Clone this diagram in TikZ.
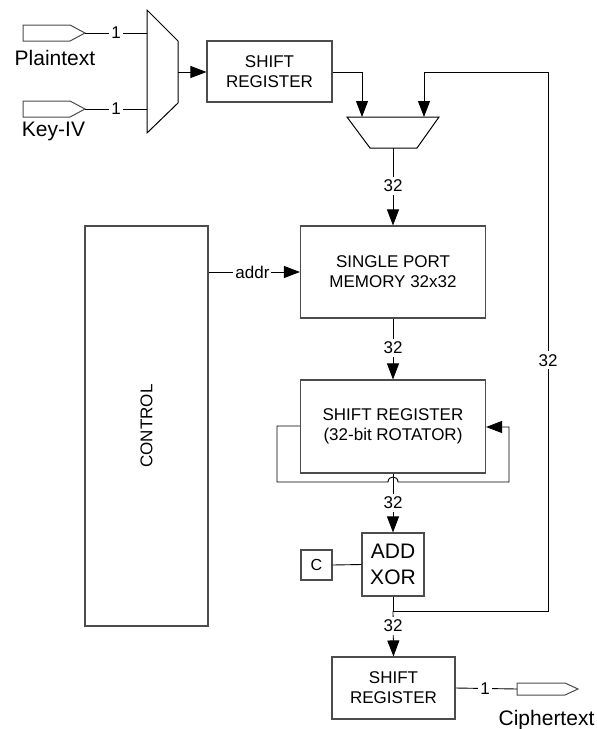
\documentclass[tikz,border=0pt]{standalone}
\usepackage{fontspec}
\setmainfont{Liberation Sans}
\usetikzlibrary{arrows.meta}
\begin{document}
\begin{tikzpicture}[x=1pt,y=-1pt,
  box/.style={draw=black!70, line width=1.1pt, fill=white, inner sep=0pt,
              align=center, font=\fontsize{17}{20}\selectfont},
  wire/.style={line width=0.9pt, draw=black},
  arr/.style={wire, -{Triangle[length=16pt,width=12pt]}},
  lbl/.style={fill=white, inner sep=3pt, font=\fontsize{17}{20}\selectfont},
  pin/.style={draw=black!70, line width=1pt, fill=white},
  io/.style={font=\fontsize{21}{24}\selectfont, anchor=base},
]
\useasboundingbox (0,0) rectangle (597,729);

% ---- blocks ----
\node[box, minimum width=125pt, minimum height=61pt] (sr1) at (269.5,71.5) {SHIFT\\REGISTER};
\node[box, minimum width=185pt, minimum height=92pt] (mem) at (393,272) {SINGLE PORT\\MEMORY 32x32};
\node[box, minimum width=123pt, minimum height=400pt] (ctrl) at (146.5,426) {};
\node[font=\fontsize{17}{20}\selectfont, rotate=90] (ctrltxt) at (ctrl.center) {CONTROL};
\node[box, minimum width=185pt, minimum height=93pt] (sr2) at (393,426.5) {SHIFT REGISTER\\(32-bit ROTATOR)};
\node[box, minimum width=62pt, minimum height=63pt, font=\fontsize{21}{26}\selectfont] (alu) at (393,564.5) {ADD\\XOR};
\node[box, minimum width=31pt, minimum height=30pt, font=\fontsize{16}{19}\selectfont] (cst) at (316.5,565) {C};
\node[box, minimum width=123pt, minimum height=62pt] (sr3) at (393.5,688) {SHIFT\\REGISTER};

% ---- input multiplexer ----
\coordinate (m1) at (147,10);
\coordinate (m2) at (178,41);
\coordinate (m3) at (178,103);
\coordinate (m4) at (147,133);
\draw[line width=1pt] (m1) -- (m2) -- (m3) -- (m4) -- cycle;
\coordinate (muxA) at (147,33);
\coordinate (muxB) at (147,109);
\coordinate (muxout) at (178,72);

% ---- combining trapezoid ----
\coordinate (t1) at (347,117);
\coordinate (t2) at (439,117);
\coordinate (t3) at (417,148);
\coordinate (t4) at (370,148);
\draw[line width=1pt] (t1) -- (t2) -- (t3) -- (t4) -- cycle;
\coordinate (tinA) at (362,117);
\coordinate (tinB) at (424,117);
\coordinate (tout) at (393,148);

% ---- I/O pins ----
\draw[pin] (23,25) -- (70,25) -- (85,33) -- (70,41) -- (23,41) -- cycle;
\coordinate (ptip) at (85,33);
\draw[pin] (23,101) -- (70,101) -- (85,109) -- (70,117) -- (23,117) -- cycle;
\coordinate (ktip) at (85,109);
\draw[pin] (517,683) -- (565,683) -- (578,689) -- (565,695) -- (517,695) -- cycle;
\coordinate (cbase) at (517,689);

\node[io] (ptxt) at (55,65) {Plaintext};
\node[io] (ktxt) at (53.5,136) {Key-IV};
\node[io] (ctxt) at (546.5,725) {Ciphertext};

% ---- connectors ----
\draw[wire] (ptip) -- node[lbl, inner sep=2pt] {1} (muxA);
\draw[wire] (ktip) -- node[lbl, inner sep=2pt] {1} (muxB);
\draw[arr] (muxout) -- (sr1.west |- muxout);

\draw[arr] (sr1.east |- 0,72) -| (tinA);
\draw[arr] (tout) -- node[lbl, pos=0.49] {32} (mem.north);

\draw[arr] (ctrl.east |- mem.west) -- node[lbl, pos=0.48, inner sep=2pt] {addr} (mem.west);
\draw[arr] (mem.south) -- node[lbl, pos=0.48] {32} (sr2.north);

% rotate loop around the shift register
\coordinate (jl) at (388,482);
\coordinate (jr) at (398,482);
\draw[arr] (sr2.west |- 0,426) -- (277,426) -- (277,482) -- (jl)
  .. controls (388,475.3) and (398,475.3) .. (jr)
  -- (509,482) -- (509,427) -- (sr2.east |- 0,427);
\draw[arr] (sr2.south) -- node[lbl, pos=0.5] {32} (alu.north);

\draw[wire] (cst.east) -- (alu.west);

% output and feedback
\coordinate (split) at (393,611);
\draw[wire] (alu.south) -- (split);
\draw[arr] (split) -- (548,611) -- node[lbl, pos=0.465] {32} (548,72) -- (424,72) -- (tinB);
\draw[arr] (split) -- node[lbl, pos=0.33] {32} (sr3.north);
\draw[wire] (sr3.east) -- node[lbl, pos=0.48, inner sep=2pt] {1} (cbase);
\end{tikzpicture}
\end{document}
